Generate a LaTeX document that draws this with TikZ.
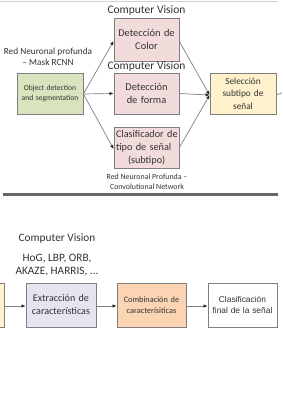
\documentclass[tikz,border=0pt]{standalone}
\usepackage{fontspec}
\setmainfont{Carlito}
\newfontfamily\arialf{Liberation Sans}
\usetikzlibrary{arrows.meta}
\definecolor{txt}{HTML}{333333}
\definecolor{bord}{HTML}{7F7F7F}
\definecolor{greenf}{HTML}{D7E4BD}
\definecolor{pinkf}{HTML}{F2DCDB}
\definecolor{creamf}{HTML}{FFF1CB}
\definecolor{lavf}{HTML}{E6E4EF}
\definecolor{peachf}{HTML}{FBD4B4}
\tikzset{
  box/.style={draw=bord, line width=0.8pt, text=txt, align=center, inner sep=1pt, minimum height=41pt, minimum width=65pt},
  lbl/.style={text=txt, inner sep=0pt, align=center},
  arr/.style={draw=bord, line width=0.7pt, -{Latex[length=4pt,width=3.5pt,color=black!85]}},
  fs/.style={font=\fontsize{#1}{#1}\selectfont},
  fsk/.style 2 args={font=\fontsize{#1}{#2}\selectfont}
}
\begin{document}
\begin{tikzpicture}[x=1pt,y=-1pt]
\useasboundingbox (0,0) rectangle (282,420);
\clip (0,0) rectangle (282,420);
\fill[white] (0,0) rectangle (282,420);
% top thin line
\coordinate (tl1) at (0,1.5);
\coordinate (tl2) at (278,1.5);
\draw[black!18, line width=0.6pt] (tl1) -- (tl2);
% top section
\node[lbl, fs=11.5] (cv1) at (146.5,10) {Computer Vision};
\node[box, fill=pinkf, minimum height=43pt, fsk={10.4}{13}, text width=60pt] (color) at (146.5,39.5) {Detección de\\Color};
\node[lbl, fs=11.5] (cv2) at (146.5,66) {Computer Vision};
\node[box, fill=pinkf, fsk={10.4}{13.3}, text width=60pt] (forma) at (146.5,93.5) {Detección\\de forma};
\node[box, fill=greenf, minimum width=66pt, fsk={7.6}{10}, text width=62pt] (obj) at (50,93.5) {Object detection\\and segmentation};
\node[lbl, fs=9.3] (rn1) at (48,52) {Red Neuronal profunda};
\node[lbl, fs=9.3] (rn2) at (48,62) {– Mask RCNN};
\node[box, fill=creamf, minimum width=66pt, fsk={9.3}{12.5}, text width=60pt] (sel) at (243,93.5) {Selección\\subtipo de\\señal};
\node[box, fill=pinkf, fsk={10.2}{13}, align=left, text width=63pt, inner xsep=1pt] (clas) at (146.5,147.5) {\hspace*{1pt}Clasificador de\\\hspace*{1pt}tipo de señal\\\hspace*{13pt}(subtipo)};
\node[lbl, fs=7.9] (cn1) at (147,177) {Red Neuronal Profunda –};
\node[lbl, fs=7.9] (cn2) at (147,187) {Convolutional Network};
\coordinate (objo) at ([yshift=-0.5pt]obj.east);
\draw[arr] (objo) -- ([yshift=-1.5pt]color.west);
\draw[arr] (objo) -- (forma.west);
\draw[arr] (objo) -- ([yshift=-1.5pt]clas.west);
\coordinate (seli) at ([yshift=-1.5pt]sel.west);
\draw[arr] ([yshift=-2pt]color.east) -- (seli);
\draw[arr] (forma.east) -- (seli);
\draw[arr] (clas.east) -- (seli);
\coordinate (selo) at (284,92);
\draw[bord, line width=0.7pt] ([yshift=-1.5pt]sel.east) -- (selo);
% separator
\coordinate (s1) at (3,194.5);
\coordinate (s2) at (278,194.5);
\draw[black!60, line width=2.6pt] (s1) -- (s2);
% bottom section
\node[lbl, fs=11.3] (cv3) at (57,239) {Computer Vision};
\node[lbl, fs=11.3] (hog1) at (57,259) {HoG, LBP, ORB,};
\node[lbl, fs=11.3] (hog2) at (57,272) {AKAZE, HARRIS, ...};
\node[box, fill=creamf, minimum width=66pt, minimum height=44pt] (prev) at (-29,305) {};
\node[box, fill=lavf, minimum width=70pt, minimum height=44pt, fsk={10.1}{13}, text width=66pt] (ext) at (61,305) {Extracción de\\características};
\node[box, fill=peachf, minimum width=69pt, minimum height=44pt, fsk={8.3}{11}, text width=66pt] (comb) at (151.5,305) {Combinación de\\caracterísiticas};
\node[box, fill=white, minimum width=69pt, minimum height=44pt, font=\arialf\fontsize{8.4}{11.3}\selectfont, text width=66pt] (fin) at (242.5,305) {Clasificación\\final de la señal};
\draw[arr] ([yshift=-1pt]prev.east) -- ([yshift=-1pt]ext.west);
\draw[arr] ([yshift=-1pt]ext.east) -- ([yshift=-1pt]comb.west);
\draw[arr] ([yshift=-1pt]comb.east) -- ([yshift=-1pt]fin.west);
\end{tikzpicture}
\end{document}
